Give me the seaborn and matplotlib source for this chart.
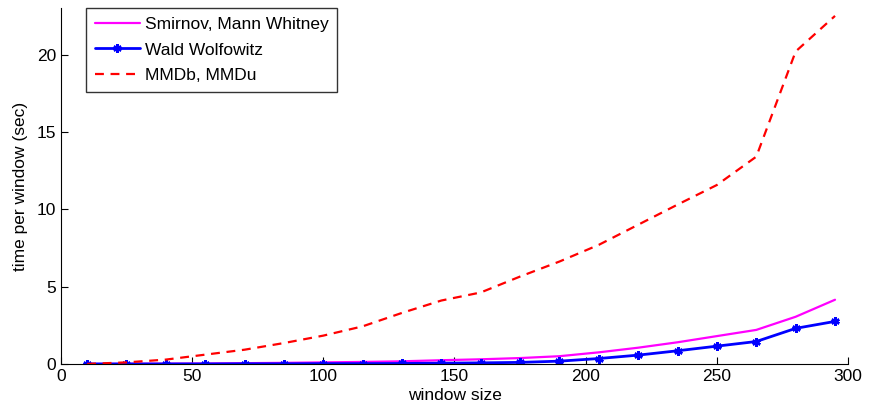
import numpy as np
import pandas as pd
import matplotlib
matplotlib.use("Agg")
import matplotlib.pyplot as plt
import seaborn as sns

window_size = [10, 25, 40, 55, 70, 85, 100, 115, 130, 145, 160, 175, 190, 205, 220, 235, 250, 265, 280, 295]
smirnov_mw = [0.0, 0.01, 0.02, 0.03, 0.05, 0.07, 0.1, 0.13, 0.17, 0.24, 0.3, 0.38, 0.5, 0.75, 1.05, 1.4, 1.8, 2.2, 3.05, 4.15]
wald_wolfowitz = [0.0, 0.0, 0.0, 0.0, 0.01, 0.01, 0.02, 0.02, 0.03, 0.05, 0.07, 0.1, 0.18, 0.35, 0.57, 0.85, 1.15, 1.45, 2.3, 2.75]
mmd = [0.0, 0.1, 0.28, 0.6, 0.92, 1.35, 1.83, 2.43, 3.3, 4.1, 4.62, 5.65, 6.62, 7.7, 9.0, 10.3, 11.57, 13.4, 20.2, 22.5]
labels = ["Smirnov, Mann Whitney", "Wald Wolfowitz", "MMDb, MMDu"]

sns.set_style("ticks")
plt.rcParams['font.family'] = ['Liberation Sans', 'DejaVu Sans']
plt.rcParams['text.color'] = 'black'
plt.rcParams['axes.labelcolor'] = 'black'
plt.rcParams['xtick.color'] = 'black'
plt.rcParams['ytick.color'] = 'black'
plt.rcParams['axes.edgecolor'] = 'black'

df = pd.DataFrame({
    "window size": window_size * 3,
    "time": smirnov_mw + wald_wolfowitz + mmd,
    "method": [labels[0]] * len(window_size) + [labels[1]] * len(window_size) + [labels[2]] * len(window_size),
})

fig = plt.figure(figsize=(8.69, 4.08), dpi=100)
ax = fig.add_axes([0.070, 0.108, 0.906, 0.872])

palette = {labels[0]: "#ff00ff", labels[1]: "#0000ff", labels[2]: "#ff0000"}
sns.lineplot(data=df, x="window size", y="time", hue="method", style="method",
             palette=palette, hue_order=labels, style_order=labels,
             dashes={labels[0]: "", labels[1]: "", labels[2]: (4, 3)},
             markers={labels[0]: "", labels[1]: (6, 2, 0), labels[2]: ""},
             ax=ax, legend=False)

lines = ax.get_lines()
for ln in lines:
    ln.set_linewidth(1.6)
lines[1].set_linewidth(2.0)
lines[1].set_markersize(6)
lines[1].set_markeredgewidth(1.8)
lines[1].set_markeredgecolor("#0000ff")

ax.set_xlim(0, 300)
ax.set_ylim(0, 23)
ax.set_xticks([0, 50, 100, 150, 200, 250, 300])
ax.set_yticks([0, 5, 10, 15, 20])
ax.tick_params(direction="in", length=5, labelsize=12.5, width=0.8)
ax.set_xlabel("window size", fontsize=12.5, labelpad=3)
ax.set_ylabel("time per window (sec)", fontsize=12.5, labelpad=6)
sns.despine(ax=ax)

leg = ax.legend(lines[:3], labels, loc="upper left", bbox_to_anchor=(0.032, 1.0),
                borderaxespad=0, fontsize=12.5, frameon=True, fancybox=False, edgecolor="black",
                handlelength=2.6, borderpad=0.5, labelspacing=0.6, handletextpad=0.3)
leg.get_frame().set_linewidth(1.0)

fig.savefig("out.png", dpi=100)
